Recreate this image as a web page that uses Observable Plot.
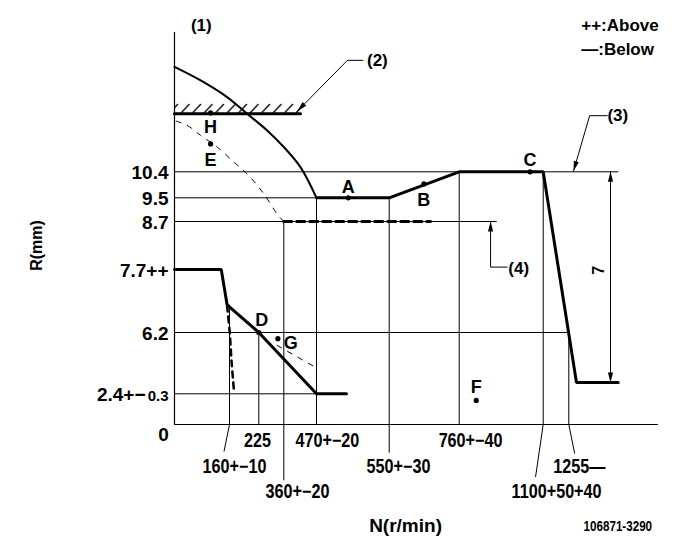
<!DOCTYPE html>
<html><head><meta charset="utf-8">
<style>body{margin:0;background:#fff} svg{display:block}</style>
<script src="https://cdn.jsdelivr.net/npm/d3@7"></script>
<script src="https://cdn.jsdelivr.net/npm/@observablehq/plot@0.6"></script>
</head><body><div id="chart"></div>
<script>
const FONT = '"Liberation Sans","Arial",sans-serif';

// ---- rack position axis R (mm)
const rTicks = [10.4, 9.5, 8.7, 7.7, 6.2, 2.4];
const rTickLabels = ["10.4", "9.5", "8.7", "7.7++", "6.2", "2.4+−"];
const rGrid = [10.4, 9.5, 8.7, 6.2, 2.4];
const rGridTo = [1392, 470, 914, 1255, 470];

// ---- pump speed axis N (r/min)
const nTicks = [160, 225, 360, 470, 550, 760, 1100, 1255];
const nTickLabels = ["160+−10", "225", "360+−20", "470+−20", "550+−30", "760+−40", "1100+50+40", "1255—"];
const nGridTop = [6.85, 6.2, 8.7, 9.5, 9.5, 10.4, 10.4, 6.2];
const nGridBottom = [0, 0, -4.5, 0, -2.3, 0, 0, 0];
const nLabelAtN = [171, 222, 406, 482, 578, 806, 1181, 1284];
const nLabelAtR = [-3.35, -1.3, -5.35, -1.3, -3.4, -1.3, -5.35, -3.4];
const nLeaderFrom = [160, 1100, 1255];
const nLeaderToN = [144, 1069, 1271];
const nLeaderToR = [-2.16, -4.2, -2.32];

// ---- curves
const idleN = [0, 136, 153, 225, 470, 503];
const idleR = [7.7, 7.7, 6.86, 6.2, 2.4, 2.4];
const idleDashN = [153, 160.7, 164.4, 169.5];
const idleDashR = [6.84, 6.13, 4.47, 2.71];
const gDashN = [324, 461];
const gDashR = [5.4, 4.1];
const startN = [0, 76, 153, 199, 270, 360, 416, 470];
const startR = [13.11, 12.76, 12.33, 11.9, 11.47, 11.04, 10.52, 9.5];
const fullN = [470, 550, 760, 1100, 1276, 1390];
const fullR = [9.5, 9.5, 10.4, 10.4, 3.1, 3.1];
const startDashN = [5, 37, 76, 124, 170, 199, 252, 324, 360];
const startDashR = [11.71, 11.6, 11.34, 11.04, 10.65, 10.33, 9.64, 8.95, 8.7];
const limitDashN = [360, 674];
const limitDashR = [8.7, 8.7];
const stopN = [0, 416];
const stopR = 11.9;

// ---- measuring points
const pointNames = ["A", "B", "C", "D", "E", "F", "G", "H"];
const pointN = [505, 654, 1047, 225, 105, 829, 328, 105];
const pointR = [9.5, 9.98, 10.4, 6.2, 11.12, 1.88, 5.82, 11.92];
const pointLabelDx = [0, 0, 0, 3, 0, 0, 13, 0];
const pointLabelDy = [-11, 16, -12, -12, 16, -13, 5, 14];

// ---- callouts
const calloutText = ["(1)", "(2)", "(3)", "(4)"];
const calloutN = [78, 537, 1389, 1001];
const calloutR = [14.17, 13.28, 11.85, 7.72];
const lead2N = [521, 504, 406];
const lead2R = [13.28, 13.28, 11.97];
const lead3N = [1360, 1312, 1268];
const lead3R = [11.85, 11.85, 10.42];
const lead4N = [954, 887, 887];
const lead4R = [7.75, 7.75, 8.7];
const dimN = 1369;
const dimR = [10.4, 3.1];
const legendText = ["++:Above", "—:Below"];
const legendR = [14.18, 13.55];

// scales: schematic piecewise axes
const xBreaks = [-506, 0, 160, 225, 360, 470, 550, 760, 1100, 1255, 1574];
const xPixels = [0, 174, 229, 258.3, 283.3, 316, 388.7, 458.7, 542.7, 568.3, 685];
const yBreaks = [-10, 0, 2.4, 6.2, 7.7, 8.7, 9.5, 10.4, 14.8];
const yPixels = [549, 424, 393.3, 332, 269, 221, 197.3, 171.3, 1];

const pts = (xs, ys) => xs.map((x, i) => ({x, y: Array.isArray(ys) ? ys[i] : ys}));
const head = {draw(c) { c.moveTo(0, 0); c.lineTo(-2.6, 10); c.lineTo(2.6, 10); c.closePath(); }};
const T = {fontFamily: FONT, fontWeight: "bold", fill: "black"};
const K = {stroke: "black", fill: "none"};

const chart = Plot.plot({
  width: 685, height: 549, margin: 0,
  x: {type: "linear", domain: xBreaks, range: xPixels, axis: null},
  y: {type: "linear", domain: yBreaks, range: yPixels, axis: null},
  style: {fontFamily: FONT, background: "white", color: "black"},
  marks: [
    // hatched stop
    Plot.rect([0], {x1: stopN[0], x2: stopN[1], y1: stopR, y2: stopR + 0.26, fill: "url(#hatch)"}),
    // grid
    Plot.ruleY(rGrid, {x1: 0, x2: (d, i) => rGridTo[i], stroke: "black", strokeWidth: 1}),
    Plot.ruleX(nTicks, {y1: (d, i) => nGridBottom[i], y2: (d, i) => nGridTop[i], stroke: "black", strokeWidth: 1}),
    Plot.link(nLeaderFrom, {x1: d => d, y1: 0, x2: (d, i) => nLeaderToN[i], y2: (d, i) => nLeaderToR[i], stroke: "black"}),
    // axes
    Plot.ruleX([0], {y1: 0, y2: 14, stroke: "black", strokeWidth: 1.2}),
    Plot.ruleY([0], {x1: 0, x2: 1500, stroke: "black", strokeWidth: 1.2}),
    // curves
    Plot.line(pts(startDashN, startDashR), {x: "x", y: "y", curve: "catmull-rom", ...K, strokeWidth: 1, strokeDasharray: "5,7"}),
    Plot.line(pts(gDashN, gDashR), {x: "x", y: "y", ...K, strokeWidth: 1, strokeDasharray: "5,7"}),
    Plot.line(pts(limitDashN, limitDashR), {x: "x", y: "y", ...K, strokeWidth: 3, strokeDasharray: "8,5"}),
    Plot.line(pts(idleDashN, idleDashR), {x: "x", y: "y", curve: "catmull-rom", ...K, strokeWidth: 2.5, strokeDasharray: "6,5"}),
    Plot.line(pts(startN, startR), {x: "x", y: "y", curve: "catmull-rom", ...K, strokeWidth: 2}),
    Plot.line(pts(stopN, stopR), {x: "x", y: "y", ...K, strokeWidth: 3.2}),
    Plot.line(pts(idleN, idleR), {x: "x", y: "y", ...K, strokeWidth: 3, strokeLinejoin: "miter"}),
    Plot.line(pts(fullN, fullR), {x: "x", y: "y", ...K, strokeWidth: 3, strokeLinejoin: "miter"}),
    // points
    Plot.dot(pts(pointN, pointR), {x: "x", y: "y", r: 2.6, fill: "black", stroke: "none"}),
    ...pointNames.map((name, i) => Plot.text([name], {x: pointN[i], y: pointR[i], dx: pointLabelDx[i], dy: pointLabelDy[i], ...T, fontSize: 18})),
    // callouts
    Plot.line(pts(lead2N, lead2R), {x: "x", y: "y", ...K, strokeWidth: 1}),
    Plot.line(pts(lead3N, lead3R), {x: "x", y: "y", ...K, strokeWidth: 1}),
    Plot.line(pts(lead4N, lead4R), {x: "x", y: "y", ...K, strokeWidth: 1}),
    Plot.ruleX([dimN], {y1: dimR[0], y2: dimR[1], stroke: "black", strokeWidth: 1}),
    Plot.dot([{x: lead2N[2], y: lead2R[2]}], {x: "x", y: "y", symbol: head, rotate: 224, fill: "black", stroke: "none"}),
    Plot.dot([{x: lead3N[2], y: lead3R[2]}], {x: "x", y: "y", symbol: head, rotate: 196, fill: "black", stroke: "none"}),
    Plot.dot([{x: lead4N[2], y: lead4R[2]}], {x: "x", y: "y", symbol: head, rotate: 0, fill: "black", stroke: "none"}),
    Plot.dot([{x: dimN, y: dimR[0]}], {x: "x", y: "y", symbol: head, rotate: 0, fill: "black", stroke: "none"}),
    Plot.dot([{x: dimN, y: dimR[1]}], {x: "x", y: "y", symbol: head, rotate: 180, fill: "black", stroke: "none"}),
    Plot.text(["7"], {x: dimN, y: 7.68, dx: -12, rotate: -90, ...T, fontSize: 16}),
    Plot.text(calloutText, {x: (d, i) => calloutN[i], y: (d, i) => calloutR[i], text: d => d, ...T, fontSize: 17}),
    // tick labels
    Plot.text(rTickLabels.slice(0, 5), {x: 0, y: (d, i) => rTicks[i], text: d => d, textAnchor: "end", dx: -6, dy: 1, ...T, fontSize: 19}),
    Plot.text([rTickLabels[5]], {x: 0, y: rTicks[5], textAnchor: "end", dx: -29, dy: 1, ...T, fontSize: 19}),
    Plot.text(["0.3"], {x: 0, y: rTicks[5], textAnchor: "end", dx: -6, dy: 2, ...T, fontSize: 15}),
    Plot.text(["0"], {x: 0, y: 0, dx: -11, dy: 10, ...T, fontSize: 19}),
    Plot.text(nTickLabels, {x: (d, i) => nLabelAtN[i], y: (d, i) => nLabelAtR[i], text: d => d, ...T, fontSize: 19.5, ariaDescription: "squeeze"}),
    // titles
    Plot.text(["R(mm)"], {x: -401, y: 8.2, rotate: -90, ...T, fontSize: 16}),
    Plot.text(["N(r/min)"], {x: 599, y: -8.08, ...T, fontSize: 19}),
    Plot.text(["106871-3290"], {x: 1389, y: -8.16, ...T, fontSize: 14, ariaDescription: "squeeze"}),
    Plot.text(legendText, {x: 1289, y: (d, i) => legendR[i], text: d => d, textAnchor: "start", ...T, fontSize: 17})
  ]
});

// hatch pattern definition
const ns = "http://www.w3.org/2000/svg";
const defs = document.createElementNS(ns, "defs");
const pat = document.createElementNS(ns, "pattern");
pat.setAttribute("id", "hatch");
pat.setAttribute("patternUnits", "userSpaceOnUse");
pat.setAttribute("width", "11.5"); pat.setAttribute("height", "10");
pat.setAttribute("x", "180"); pat.setAttribute("y", "3");
const ln = document.createElementNS(ns, "line");
ln.setAttribute("x1", "1"); ln.setAttribute("y1", "10"); ln.setAttribute("x2", "9.5"); ln.setAttribute("y2", "1");
ln.setAttribute("stroke", "black"); ln.setAttribute("stroke-width", "1.3");
pat.appendChild(ln); defs.appendChild(pat);
chart.insertBefore(defs, chart.firstChild);

document.getElementById("chart").appendChild(chart);

// condense the dimension labels (narrow drawing font)
chart.querySelectorAll("g[aria-description='squeeze'] text").forEach(t => {
  const w = t.getComputedTextLength();
  t.setAttribute("textLength", (w * 0.83).toFixed(1));
  t.setAttribute("lengthAdjust", "spacingAndGlyphs");
});
</script></body></html>
